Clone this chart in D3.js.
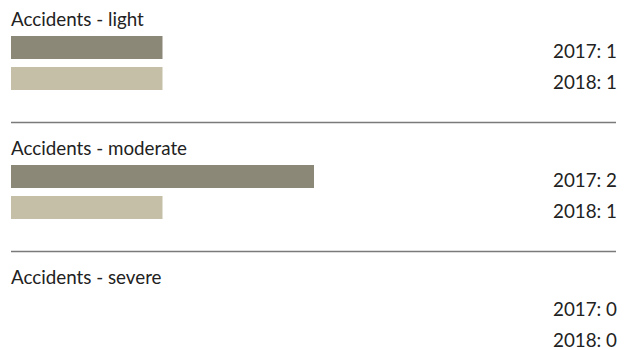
<!DOCTYPE html>
<html>
<head>
<meta charset="utf-8">
<script src="https://cdn.jsdelivr.net/npm/d3@7"></script>
<style>
  html, body { margin: 0; padding: 0; background: #fff; }
  svg { display: block; }
  text { font-family: "Lato", "Open Sans", sans-serif; fill: #222; }
</style>
</head>
<body>
<svg id="chart" width="629" height="350"></svg>
<script>
// Accident counts per severity, compared across two years
const categories = ["Accidents - light", "Accidents - moderate", "Accidents - severe"];
const years = ["2017", "2018"];
const values2017 = [1, 2, 0];
const values2018 = [1, 1, 0];
const yearColors = ["#8b8878", "#c6bfa8"];

const left = 11, right = 616;
const pitch = 129;

const svg = d3.select("#chart");

const x = d3.scaleLinear().domain([0, 2]).range([left, 314]);

// one section per category
const section = d3.scaleBand()
  .domain(categories)
  .range([0, pitch * categories.length])
  .paddingInner(0);

// bar rows inside a section
const row = d3.scaleBand().domain(years).range([36, 90]).paddingInner(8 / 31).paddingOuter(0);

const rows = categories.map((c, i) => ({
  category: c,
  entries: [values2017[i], values2018[i]].map((v, j) => ({ year: years[j], value: v, color: yearColors[j] }))
}));

const g = svg.selectAll("g.section").data(rows).join("g")
  .attr("class", "section")
  .attr("transform", d => `translate(0,${section(d.category)})`);

g.append("text")
  .attr("x", left)
  .attr("y", 26)
  .attr("font-size", 18.8)
  .text(d => d.category);

g.selectAll("rect").data(d => d.entries).join("rect")
  .attr("x", x(0))
  .attr("y", e => row(e.year))
  .attr("height", row.bandwidth())
  .attr("width", e => x(e.value) - x(0))
  .attr("fill", e => e.color);

g.selectAll("text.value").data(d => d.entries).join("text")
  .attr("class", "value")
  .attr("x", right + 1)
  .attr("y", e => row(e.year) + row.bandwidth() - 1.2)
  .attr("text-anchor", "end")
  .attr("font-size", 18.8)
  .text(e => `${e.year}: ${e.value}`);

// separators between sections
g.filter((d, i) => i < categories.length - 1)
  .append("line")
  .attr("x1", left)
  .attr("x2", right)
  .attr("y1", 122.5)
  .attr("y2", 122.5)
  .attr("stroke", "#7a7a7a")
  .attr("stroke-width", 1.3);
</script>
</body>
</html>
